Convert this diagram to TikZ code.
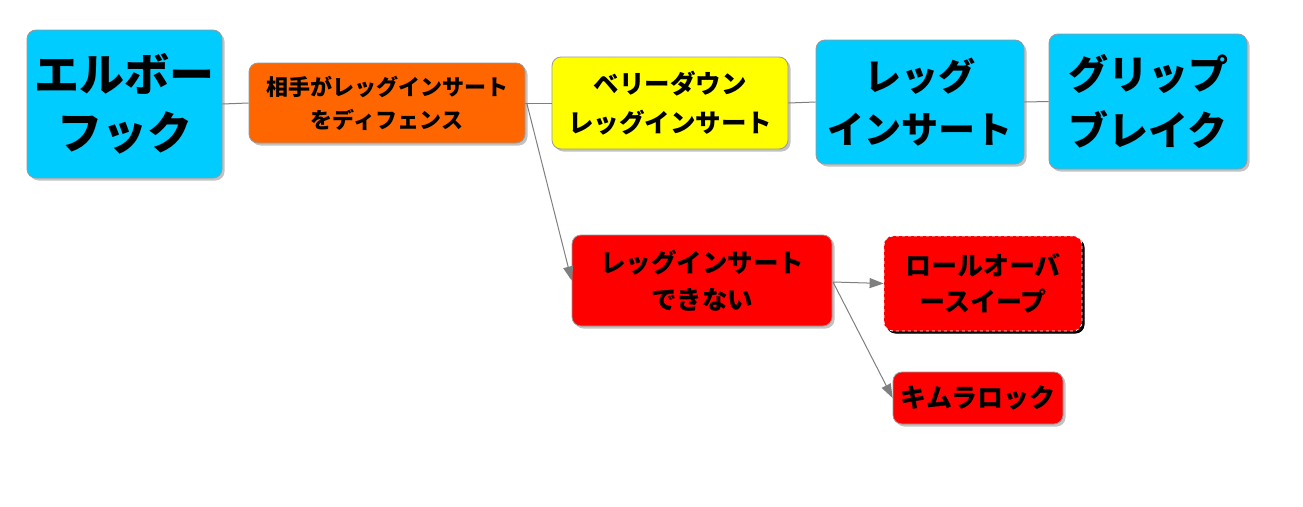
\documentclass[tikz,border=0pt]{standalone}
\usepackage{fontspec}
\newfontfamily\jp{Noto Sans CJK JP}
\usetikzlibrary{shadows,arrows.meta}
\definecolor{skyb}{HTML}{00CCFF}
\definecolor{orng}{HTML}{FF6600}
\definecolor{yllw}{HTML}{FFFF00}
\definecolor{redd}{HTML}{FF0000}
\definecolor{edge}{HTML}{7F7F7F}
\tikzset{
  box/.style={draw=edge!80, line width=0.8pt, rounded corners=9pt, align=center, inner sep=0pt,
    font=\jp\bfseries, text=black,
    drop shadow={shadow xshift=2.5pt, shadow yshift=-2.5pt, opacity=0.4, fill=black!60}},
  link/.style={draw=edge, line width=1pt},
  arr/.style={link, -{Triangle[length=14pt,width=10pt]}},
}
\begin{document}
\begin{tikzpicture}[x=1pt,y=-1pt]
\useasboundingbox (0,0) rectangle (1303,506);
\node[box, fill=skyb, minimum width=195pt, minimum height=148pt, font=\jp\bfseries\fontsize{45}{58}\selectfont] (a) at (124.5,104) {エルボー\\フック};
\node[box, fill=orng, minimum width=276pt, minimum height=80pt, font=\jp\bfseries\fontsize{22}{33}\selectfont] (b) at (387,103) {相手がレッグインサート\\をディフェンス};
\node[box, fill=yllw, minimum width=236pt, minimum height=92pt, font=\jp\bfseries\fontsize{25.5}{39}\selectfont] (c) at (670,103) {ベリーダウン\\レッグインサート};
\node[box, fill=skyb, minimum width=208pt, minimum height=124pt, font=\jp\bfseries\fontsize{37}{53}\selectfont] (d) at (920,102) {レッグ\\インサート};
\node[box, fill=skyb, minimum width=198pt, minimum height=135pt, font=\jp\bfseries\fontsize{40}{56}\selectfont] (e) at (1148,101.5) {グリップ\\ブレイク};
\node[box, fill=redd, minimum width=260pt, minimum height=91pt, font=\jp\bfseries\fontsize{25.5}{37}\selectfont] (f) at (702,280.5) {レッグインサート\\できない};
\node[box, fill=redd, draw=white, dashed, minimum width=198pt, minimum height=95pt,
  drop shadow={shadow xshift=2.5pt, shadow yshift=-2.5pt, opacity=1, fill=black},
  font=\jp\bfseries\fontsize{26}{36}\selectfont] (g) at (983,283.5) {ロールオーバ\\ースイープ};
\node[box, fill=redd, minimum width=170pt, minimum height=52pt, font=\jp\bfseries\fontsize{26}{30}\selectfont] (h) at (978,398) {キムラロック};
\draw[link] (a.east) -- (b.west);
\draw[link] (b.east) -- (c.west);
\draw[link] (c.east) -- (d.west);
\draw[link] (d.east) -- (e.west);
\coordinate (bo) at (527,104);
\draw[arr] (bo) -- (f.west);
\coordinate (fo) at (833,282);
\draw[arr] (fo) -- (g.west);
\draw[arr] (fo) -- (h.west);
\end{tikzpicture}
\end{document}
